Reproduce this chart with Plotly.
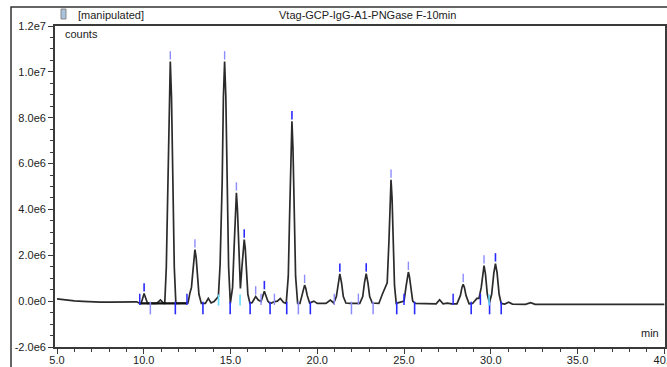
import plotly.graph_objects as go

# ---------------- data ----------------
time_min = [5.0, 5.5, 6.0, 6.5, 6.9, 7.5, 8.0, 8.8, 9.3, 9.6, 9.77, 9.85, 10.02, 10.22, 10.75, 10.96, 11.15,
            11.21, 11.30, 11.39, 11.46, 11.53, 11.60, 11.67, 11.76, 11.85, 12.2, 12.55, 12.66, 12.75, 12.82,
            12.88, 12.95, 13.02, 13.09, 13.18, 13.32, 13.55, 13.72, 13.88, 14.05, 14.3, 14.40, 14.52, 14.59,
            14.66, 14.73, 14.80, 14.89, 14.99, 15.12, 15.21, 15.28, 15.34, 15.40, 15.46, 15.52, 15.57, 15.66,
            15.73, 15.79, 15.85, 15.92, 16.0, 16.12, 16.25, 16.45, 16.6, 16.76, 16.95, 17.15, 17.28, 17.55,
            17.7, 17.87, 18.05, 18.21, 18.33, 18.41, 18.48, 18.54, 18.60, 18.67, 18.75, 18.87, 19.0, 19.12,
            19.2, 19.27, 19.34, 19.42, 19.56, 19.8, 20.0, 20.5, 20.75, 20.95, 21.1, 21.2, 21.3, 21.4, 21.5,
            21.65, 21.9, 22.45, 22.62, 22.72, 22.82, 22.92, 23.02, 23.17, 23.55, 23.75, 23.9, 24.03, 24.13,
            24.19, 24.25, 24.31, 24.37, 24.45, 24.55, 24.8, 25.0, 25.12, 25.19, 25.25, 25.31, 25.38, 25.5,
            25.65, 26.85, 27.05, 27.25, 27.5, 27.75, 28.05, 28.25, 28.34, 28.41, 28.48, 28.57, 28.75, 28.95,
            29.2, 29.32, 29.45, 29.53, 29.61, 29.69, 29.8, 29.92, 30.05, 30.18, 30.27, 30.36, 30.48, 30.6,
            30.8, 31.03, 31.25, 32.0, 32.3, 32.55, 34.0, 35.06, 35.3, 36.7, 37.0, 40.0]
signal_mcounts = [0.10, 0.05, 0.01, -0.01, -0.03, -0.04, -0.04, -0.04, -0.03, -0.03, -0.10, -0.10, 0.33, -0.10,
                  -0.10, 0.05, -0.10,
                  -0.10, 1.48, 5.18, 8.87, 10.45, 8.87, 5.18, 1.48, -0.10, -0.10, -0.08, 0.35, 0.60, 1.20,
                  1.90, 2.25, 1.90, 1.10, 0.30, -0.10, -0.10, 0.12, -0.08, -0.02, 0.20, 1.60, 5.20, 8.90,
                  10.45, 8.90, 5.20, 1.50, -0.10, 0.60, 2.40, 4.00, 4.73, 4.00, 2.40, 0.90, 0.55, 1.50,
                  2.30, 2.68, 2.30, 1.30, 0.30, -0.10, -0.06, 0.20, 0.05, -0.02, 0.43, 0.00, -0.10, -0.02,
                  0.00, 0.12, -0.05, -0.10, 1.09, 3.87, 6.66, 7.84, 6.66, 3.87, 1.09, -0.10, -0.10, 0.25,
                  0.55, 0.70, 0.55, 0.25, -0.08, 0.00, -0.10, -0.10, 0.05, -0.08, 0.20, 0.80, 1.19, 0.80, 0.20,
                  -0.08, -0.10, -0.10, 0.20, 0.80, 1.20, 0.80, 0.20, -0.08, -0.10, 0.30, 0.55, 0.80, 2.60,
                  4.50, 5.29, 4.50, 2.60, 0.70, -0.10, -0.03, 0.00, 0.65, 1.08, 1.27, 1.08, 0.60, 0.00,
                  -0.10, -0.12, 0.06, -0.12, -0.09, -0.12, -0.12, 0.25, 0.60, 0.74, 0.60, 0.25, -0.12, -0.10,
                  0.12, 0.12, 0.60, 1.20, 1.55, 1.20, 0.30, -0.07, 0.30, 1.25, 1.64, 1.25, 0.30, -0.10,
                  -0.13, -0.05, -0.13, -0.14, -0.07, -0.14, -0.14, -0.11, -0.14, -0.11, -0.14, -0.14]

# integrated peak apexes
apex_time_dark = [10.02, 15.79, 16.95, 18.54, 21.3, 22.82, 30.27]
apex_val_dark = [0.33, 2.68, 0.43, 7.84, 1.19, 1.20, 1.64]
apex_time_light = [11.53, 12.95, 14.66, 15.34, 16.45, 19.27, 24.25, 25.25, 28.41, 29.61]
apex_val_light = [10.45, 2.25, 10.45, 4.73, 0.20, 0.70, 5.29, 1.27, 0.74, 1.55]

# integration boundaries
end_marks_dark = [11.82, 13.41, 14.98, 16.13, 17.28, 18.24, 19.6, 24.58, 25.61, 28.87, 29.93, 30.6]
end_marks_light = [10.38, 18.91, 21.97, 23.22]
start_marks_dark = [9.77, 12.49, 25.0, 27.83, 29.4]
start_marks_light = [16.76, 17.53, 20.98, 22.37]
start_marks_cyan = [14.31, 15.55, 29.9]

baseline_seg_time = [9.77, 12.49]
baseline_seg_val = [-0.10, -0.10]

y_tickvals_m = [-2, 0, 2, 4, 6, 8, 10, 12]
y_ticktext = ["-2.0e6", "0.0e0", "2.0e6", "4.0e6", "6.0e6", "8.0e6", "1.0e7", "1.2e7"]
x_tickvals = [5, 10, 15, 20, 25, 30, 35, 40]
x_ticktext = ["5.0", "10.0", "15.0", "20.0", "25.0", "30.0", "35.0", "40.0"]

title_text = "Vtag-GCP-IgG-A1-PNGase F-10min"

M = 1e6
# ---------------- layout geometry ----------------
W, H = 667, 367
L, R, T, B = 55, 2, 26, 20
PW, PH = W - L - R, H - T - B


def px2x(px):
    return (px - L) / PW


def py2y(py):
    return 1 - (py - T) / PH


FONT = "Liberation Sans, Arial, sans-serif"
fig = go.Figure()

fig.add_trace(go.Scatter(x=time_min, y=[v * M for v in signal_mcounts], mode="lines",
                         line=dict(color="#2b2b2b", width=1.7), hoverinfo="skip"))
fig.add_trace(go.Scatter(x=baseline_seg_time, y=[v * M for v in baseline_seg_val], mode="lines",
                         line=dict(color="#111111", width=2.2), hoverinfo="skip"))

apex_off = 0.27
fig.add_trace(go.Scatter(x=apex_time_dark, y=[(v + apex_off) * M for v in apex_val_dark], mode="markers",
                         marker=dict(symbol="line-ns", size=6, line=dict(color="#2a2aff", width=1.6))))
fig.add_trace(go.Scatter(x=apex_time_light, y=[(v + apex_off) * M for v in apex_val_light], mode="markers",
                         marker=dict(symbol="line-ns", size=6, line=dict(color="#8c8cff", width=1.4))))

fig.add_trace(go.Scatter(x=end_marks_dark, y=[-0.30 * M] * len(end_marks_dark), mode="markers",
                         marker=dict(symbol="line-ns", size=9, line=dict(color="#2a2aff", width=1.6))))
fig.add_trace(go.Scatter(x=end_marks_light, y=[-0.30 * M] * len(end_marks_light), mode="markers",
                         marker=dict(symbol="line-ns", size=9, line=dict(color="#8c8cff", width=1.5))))
fig.add_trace(go.Scatter(x=start_marks_dark, y=[0.08 * M] * len(start_marks_dark), mode="markers",
                         marker=dict(symbol="line-ns", size=8, line=dict(color="#2a2aff", width=1.5))))
fig.add_trace(go.Scatter(x=start_marks_light, y=[0.08 * M] * len(start_marks_light), mode="markers",
                         marker=dict(symbol="line-ns", size=8, line=dict(color="#8c8cff", width=1.4))))
fig.add_trace(go.Scatter(x=start_marks_cyan, y=[0.05 * M] * len(start_marks_cyan), mode="markers",
                         marker=dict(symbol="line-ns", size=8, line=dict(color="#66dcff", width=1.6))))

axis_col = "#3a3a3a"
fig.update_layout(
    width=W, height=H, showlegend=False,
    margin=dict(l=L, r=R, t=T, b=B, pad=0, autoexpand=False),
    paper_bgcolor="white", plot_bgcolor="white",
    font=dict(family=FONT, size=11, color="#222222"),
    xaxis=dict(range=[4.885, 40.04], tickvals=x_tickvals, ticktext=x_ticktext,
               ticks="outside", ticklen=5, tickwidth=1.2, tickcolor=axis_col,
               ticklabeloverflow="allow", automargin=False, ticklabelstandoff=-3,
               minor=dict(dtick=1, ticks="outside", ticklen=3, tickcolor=axis_col, tickwidth=1),
               showline=True, linecolor=axis_col, linewidth=1.8, mirror=True,
               showgrid=False, zeroline=False, tickfont=dict(size=11, color="#222")),
    yaxis=dict(range=[-2 * M, 12 * M], tickvals=[v * M for v in y_tickvals_m], ticktext=y_ticktext,
               ticks="outside", ticklen=5, tickwidth=1.2, tickcolor=axis_col, automargin=False,
               minor=dict(dtick=0.5 * M, ticks="outside", ticklen=3, tickcolor=axis_col, tickwidth=1),
               showline=True, linecolor=axis_col, linewidth=1.8, mirror=True,
               showgrid=False, zeroline=False, tickfont=dict(size=11, color="#222")),
)

# outer frame and small icon
fig.add_shape(type="rect", xref="paper", yref="paper",
              x0=px2x(11), x1=px2x(670), y0=py2y(370), y1=py2y(7),
              line=dict(color="#333333", width=1.5), layer="above")
fig.add_shape(type="rect", xref="paper", yref="paper",
              x0=px2x(61), x1=px2x(66), y0=py2y(19), y1=py2y(9),
              line=dict(color="#888888", width=1), fillcolor="#a9c3dc", layer="above")

fig.add_annotation(xref="paper", yref="paper", x=px2x(76), y=py2y(15), xanchor="left", yanchor="middle",
                   text="[manipulated]", showarrow=False, font=dict(size=11, color="#222"))
fig.add_annotation(xref="paper", yref="paper", x=px2x(368), y=py2y(15), xanchor="center", yanchor="middle",
                   text=title_text, showarrow=False, font=dict(size=11, color="#222"))
fig.add_annotation(xref="paper", yref="paper", x=px2x(63), y=py2y(34), xanchor="left", yanchor="middle",
                   text="counts", showarrow=False, font=dict(size=11, color="#222"))
fig.add_annotation(xref="paper", yref="paper", x=px2x(661), y=py2y(333), xanchor="right", yanchor="middle",
                   text="min", showarrow=False, font=dict(size=11, color="#222"))

fig.write_html("out.html", config={"displayModeBar": False},
               post_script="document.body.style.margin='0px';document.body.style.overflow='hidden';")
